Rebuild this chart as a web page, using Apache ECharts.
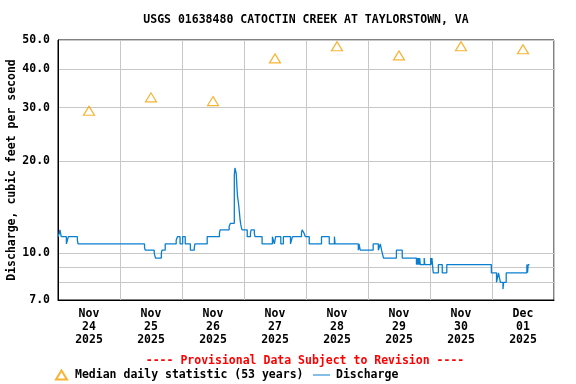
<!DOCTYPE html>
<html><head><meta charset="utf-8">
<script src="https://cdn.jsdelivr.net/npm/echarts@6/dist/echarts.min.js"></script>
<style>html,body{margin:0;padding:0;background:#fff}#c{width:576px;height:384px}</style>
</head><body><div id="c"></div>
<script>
const titleText = 'USGS 01638480 CATOCTIN CREEK AT TAYLORSTOWN, VA';
const noteText = '---- Provisional Data Subject to Revision ----';
const yAxisName = 'Discharge, cubic feet per second';
const medianName = 'Median daily statistic (53 years)';
const dischargeName = 'Discharge';

const dayLabels = [['Nov','24','2025'],['Nov','25','2025'],['Nov','26','2025'],['Nov','27','2025'],
                   ['Nov','28','2025'],['Nov','29','2025'],['Nov','30','2025'],['Dec','01','2025']];
const dayNoons = ['2025-11-24 12:00','2025-11-25 12:00','2025-11-26 12:00','2025-11-27 12:00',
                  '2025-11-28 12:00','2025-11-29 12:00','2025-11-30 12:00','2025-12-01 12:00'];
const dayBounds = ['2025-11-24 00:00','2025-11-25 00:00','2025-11-26 00:00','2025-11-27 00:00','2025-11-28 00:00',
                   '2025-11-29 00:00','2025-11-30 00:00','2025-12-01 00:00','2025-12-02 00:00'];
const medianValues = [29.3, 32.4, 31.5, 43.5, 47.7, 44.5, 47.7, 46.6];

const yLabelValues = [7, 10, 20, 30, 40, 50];
const yGridValues = [7, 8, 9, 10, 20, 30, 40, 50];

const dischargeTimes = [
 '2025-11-24 00:00','2025-11-24 00:30','2025-11-24 00:45','2025-11-24 01:15','2025-11-24 03:15','2025-11-24 04:00',
 '2025-11-24 07:30','2025-11-24 07:45','2025-11-25 09:30','2025-11-25 09:45','2025-11-25 13:15','2025-11-25 13:45',
 '2025-11-25 16:00','2025-11-25 16:15','2025-11-25 17:30','2025-11-25 21:45','2025-11-25 22:15','2025-11-25 23:15',
 '2025-11-26 00:15','2025-11-26 01:15','2025-11-26 03:15','2025-11-26 04:45','2025-11-26 05:00','2025-11-26 09:45',
 '2025-11-26 14:30','2025-11-26 14:45','2025-11-26 18:15','2025-11-26 18:45','2025-11-26 20:15','2025-11-26 20:30',
 '2025-11-26 21:00','2025-11-26 21:15','2025-11-26 21:30','2025-11-26 21:45','2025-11-26 22:00','2025-11-26 22:15',
 '2025-11-26 22:30','2025-11-26 22:45','2025-11-26 23:00','2025-11-26 23:15','2025-11-27 01:15','2025-11-27 02:30',
 '2025-11-27 02:45','2025-11-27 04:00','2025-11-27 04:15','2025-11-27 07:00','2025-11-27 11:00','2025-11-27 11:45',
 '2025-11-27 12:15','2025-11-27 14:15','2025-11-27 15:15','2025-11-27 18:00','2025-11-27 18:45','2025-11-27 22:15',
 '2025-11-27 22:30','2025-11-27 23:15','2025-11-27 23:45','2025-11-28 01:15','2025-11-28 06:00','2025-11-28 09:00',
 '2025-11-28 11:00','2025-11-28 11:15','2025-11-28 20:15','2025-11-28 20:30','2025-11-28 21:00','2025-11-29 02:00',
 '2025-11-29 04:00','2025-11-29 04:45','2025-11-29 05:15','2025-11-29 06:00','2025-11-29 11:00','2025-11-29 13:15',
 '2025-11-29 18:45','2025-11-29 19:00','2025-11-29 19:15','2025-11-29 19:30','2025-11-29 19:45','2025-11-29 20:00',
 '2025-11-29 20:15','2025-11-29 21:45','2025-11-29 22:00','2025-11-30 00:15','2025-11-30 00:30','2025-11-30 00:45',
 '2025-11-30 01:15','2025-11-30 03:15','2025-11-30 04:45','2025-11-30 06:30','2025-11-30 23:45','2025-12-01 01:45',
 '2025-12-01 02:30','2025-12-01 03:15','2025-12-01 04:15','2025-12-01 04:30','2025-12-01 05:30','2025-12-01 13:30',
 '2025-12-01 13:45','2025-12-01 14:00','2025-12-01 14:30'
];
const dischargeValues = [
 11.3, 11.6, 11.9, 11.3, 10.7, 11.3,
 11.0, 10.7, 10.4, 10.2, 9.96, 9.61,
 9.96, 10.2, 10.7, 11.0, 11.3, 10.7,
 11.3, 10.7, 10.2, 10.4, 10.7, 11.3,
 11.6, 11.9, 12.2, 12.5, 18.0, 19.0,
 18.2, 16.5, 15.3, 14.8, 14.2, 13.5,
 12.8, 12.4, 12.1, 11.9, 11.3, 11.6,
 11.9, 11.6, 11.3, 10.7, 11.3, 10.7,
 11.3, 10.7, 11.3, 10.7, 11.3, 11.6,
 11.9, 11.6, 11.3, 10.7, 11.3, 10.7,
 11.3, 10.7, 10.2, 10.7, 10.2, 10.7,
 10.2, 10.7, 10.2, 9.61, 10.2, 9.61,
 9.15, 9.61, 9.15, 9.61, 9.15, 9.61,
 9.15, 9.61, 9.15, 9.61, 9.15, 9.61,
 8.6, 9.15, 8.6, 9.15, 8.6, 8.0,
 8.6, 8.0, 7.6, 8.0, 8.6, 9.15,
 8.6, 9.15, 9.15
];

const ts = s => new Date(s.replace(' ', 'T') + ':00').getTime();
const noonTs = dayNoons.map(ts);
const boundTs = dayBounds.map(ts);

const FONT = 'DejaVu Sans Mono';
const FS = 11.5;
const LINE = '#0a7fd0';
const TRI = '#f5a000';

const chart = echarts.init(document.getElementById('c'), null, {renderer: 'canvas'});
chart.setOption({
  animation: false,
  backgroundColor: '#fff',
  textStyle: {fontFamily: FONT, fontWeight: 'bold', fontSize: FS, color: '#000'},
  title: [
    {text: titleText, left: 306, top: 14, textAlign: 'center', padding: 0,
     textStyle: {fontFamily: FONT, fontWeight: 'bold', fontSize: FS, color: '#000'}},
    {text: noteText, left: 305, top: 355, textAlign: 'center', padding: 0,
     textStyle: {fontFamily: FONT, fontWeight: 'bold', fontSize: FS, color: '#ff0000'}}
  ],
  legend: [
    {left: 55, top: 369, padding: 0, itemWidth: 11, itemHeight: 9, itemGap: 10,
     data: [{name: medianName, icon: 'triangle'}],
     textStyle: {fontFamily: FONT, fontWeight: 'bold', fontSize: FS, color: '#000', padding: [0,0,0,3]}},
    {left: 313, top: 369, padding: 0, itemWidth: 17, itemHeight: 9, itemGap: 10,
     data: [{name: dischargeName, icon: 'path://M0,4H17V5H0Z'}],
     textStyle: {fontFamily: FONT, fontWeight: 'bold', fontSize: FS, color: '#000', padding: [0,0,0,1]}}
  ],
  grid: {left: 58, right: 22, top: 40, bottom: 84, show: true, borderColor: '#000', borderWidth: 1,
         backgroundColor: 'transparent', containLabel: false, outerBoundsMode: 'none'},
  xAxis: {
    type: 'value', min: boundTs[0], max: boundTs[boundTs.length - 1],
    axisLine: {show: true, lineStyle: {color: '#000', width: 1}},
    axisTick: {show: false, customValues: boundTs},
    splitLine: {show: true, lineStyle: {color: '#c8c8c8', width: 1}},
    axisLabel: {
      customValues: noonTs, margin: 8, lineHeight: 13,
      fontFamily: FONT, fontWeight: 'bold', fontSize: FS, color: '#000',
      formatter: v => { const i = noonTs.indexOf(v); return i >= 0 ? dayLabels[i].join('\n') : ''; }
    }
  },
  yAxis: {
    type: 'log', min: 7, max: 50, logBase: 10,
    name: yAxisName, nameLocation: 'middle', nameGap: 40, nameMoveOverlap: false,
    nameTextStyle: {fontFamily: FONT, fontWeight: 'bold', fontSize: FS, color: '#000'},
    axisLine: {show: true, lineStyle: {color: '#000', width: 1}},
    axisTick: {show: false, customValues: yGridValues},
    splitLine: {show: true, lineStyle: {color: '#c8c8c8', width: 1}},
    axisLabel: {
      customValues: yLabelValues, margin: 8,
      fontFamily: FONT, fontWeight: 'bold', fontSize: FS, color: '#000',
      formatter: v => Number(v).toFixed(1)
    }
  },
  series: [
    {name: medianName, type: 'scatter', symbol: 'triangle', symbolSize: [11, 9],
     itemStyle: {color: 'rgba(255,255,255,0)', borderColor: TRI, borderWidth: 1.2},
     data: noonTs.map((t, i) => [t, medianValues[i]]), z: 3},
    {name: dischargeName, type: 'line', step: 'end', showSymbol: false, symbol: 'none',
     lineStyle: {color: LINE, width: 1.3}, itemStyle: {color: LINE},
     data: dischargeTimes.map((t, i) => [ts(t), dischargeValues[i]]), z: 2}
  ]
});
</script></body></html>
